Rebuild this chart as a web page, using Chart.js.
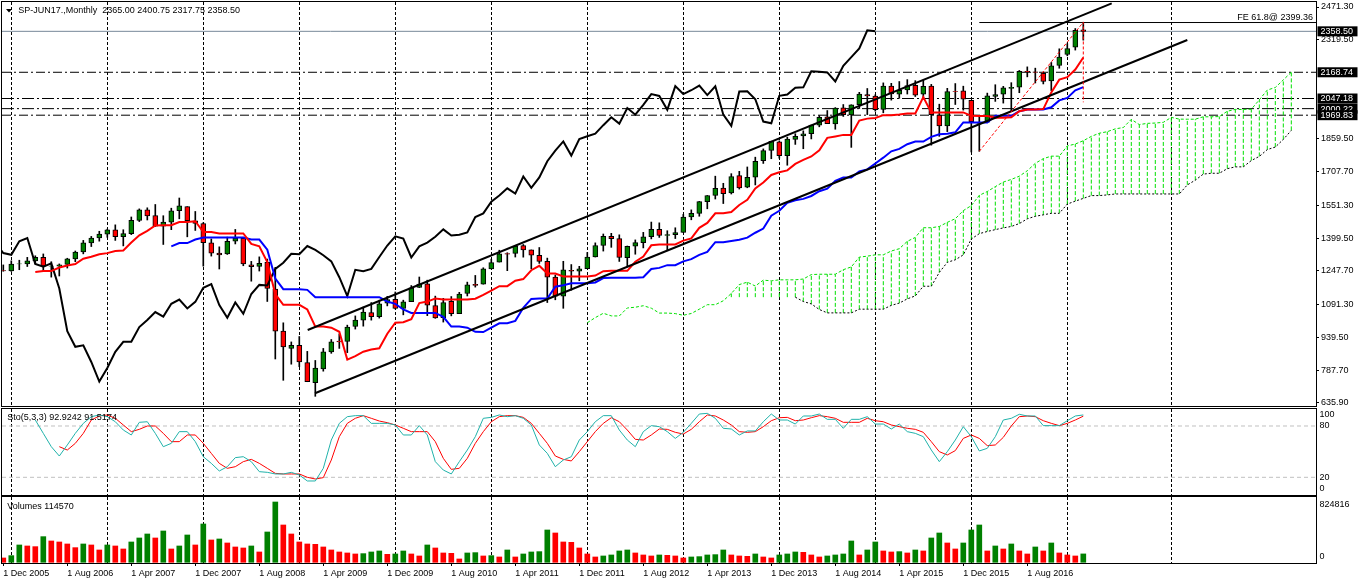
<!DOCTYPE html>
<html><head><meta charset="utf-8">
<script src="https://cdn.jsdelivr.net/npm/chart.js@4.4.1/dist/chart.umd.min.js"></script>
<style>
html,body{margin:0;padding:0;background:#fff;overflow:hidden}
#wrap{position:relative;width:1358px;height:584px;background:#fff}
canvas{position:absolute;left:0}
</style></head><body>
<div id="wrap">
<canvas id="cMain" width="1358" height="407" style="top:0px"></canvas>
<canvas id="cSto" width="1358" height="88" style="top:408px"></canvas>
<canvas id="cVol" width="1358" height="88" style="top:496px"></canvas>
</div>
<script>
// ---------------- DATA (monthly bars, index 0 = Dec 2005) ----------------
const symbolTitle = "SP-JUN17.,Monthly";
const monthTickIdx = [0,8,16,24,32,40,48,56,64,72,80,88,96,104,112,120,128];
const monthTickLabels = ["1 Dec 2005","1 Aug 2006","1 Apr 2007","1 Dec 2007","1 Aug 2008","1 Apr 2009","1 Dec 2009","1 Aug 2010","1 Apr 2011","1 Dec 2011","1 Aug 2012","1 Apr 2013","1 Dec 2013","1 Aug 2014","1 Apr 2015","1 Dec 2015","1 Aug 2016"];
const yearGridIdx = [1,13,25,37,49,61,73,85,97,109,121,133,146];

const opens = [1249.48,
1248.29,1280.08,1280.66,1294.81,1310.61,1270.05,1270.06,1278.53,1303.80,1335.82,1377.76,1400.63,
1418.03,1437.90,1406.80,1420.83,1482.37,1530.62,1504.66,1455.18,1473.96,1527.29,1545.79,1479.63,
1467.97,1378.60,1330.45,1326.41,1385.97,1399.62,1276.69,1269.42,1287.83,1164.17,968.67,888.61,
902.99,823.09,729.57,793.59,872.74,923.26,920.82,990.22,1019.52,1054.91,1036.18,1098.89,
1116.56,1073.89,1105.36,1171.23,1188.58,1087.30,1031.10,1107.53,1049.72,1143.49,1185.71,1186.60,
1257.62,1289.14,1328.64,1329.48,1365.21,1345.20,1320.64,1292.59,1219.12,1131.21,1251.00,1246.91,
1258.86,1312.45,1365.90,1408.47,1397.86,1309.87,1362.33,1379.32,1406.54,1440.90,1412.20,1416.18,
1426.19,1498.11,1514.68,1569.18,1597.55,1631.71,1609.78,1689.42,1635.95,1682.41,1758.70,1806.55,
1845.86,1782.68,1857.68,1873.96,1884.39,1923.87,1962.29,1929.80,2004.07,1971.44,2018.21,2065.78,
2058.90,1996.67,2105.23,2067.63,2087.38,2108.64,2067.00,2104.49,1970.09,1919.65,2080.76,2082.93,
2038.20,1936.94,1937.09,2056.62,2067.17,2093.94,2099.34,2173.15,2171.33,2164.33,2128.68,2200.17,
2251.57,2285.59,2365.00];
const highs = [1275.80,
1294.90,1297.57,1310.88,1318.16,1326.70,1290.68,1280.42,1306.74,1340.28,1389.45,1407.89,1431.81,
1441.61,1461.57,1438.89,1498.02,1535.56,1540.56,1555.90,1503.89,1538.74,1586.00,1545.79,1523.57,
1471.77,1396.02,1359.68,1404.57,1440.24,1404.05,1292.17,1313.15,1303.04,1264.80,1007.51,918.85,
943.85,875.01,832.98,888.70,930.17,956.23,996.68,1039.47,1080.15,1101.36,1112.28,1130.38,
1150.45,1112.42,1180.16,1219.80,1205.13,1131.23,1120.95,1129.24,1148.90,1196.14,1227.08,1262.60,
1302.67,1344.07,1332.28,1366.12,1370.58,1345.20,1356.48,1307.38,1229.29,1292.66,1277.55,1269.37,
1333.47,1378.04,1419.15,1422.38,1415.32,1363.46,1391.74,1426.68,1474.51,1470.96,1434.27,1448.00,
1509.94,1530.94,1570.28,1597.57,1687.18,1654.19,1698.78,1709.67,1729.86,1775.22,1813.55,1849.44,
1850.84,1867.92,1883.97,1897.28,1924.03,1968.17,1991.39,2005.04,2019.26,2018.19,2075.76,2093.55,
2064.43,2119.59,2117.52,2125.92,2134.72,2129.87,2132.82,2112.66,2020.86,2094.32,2116.48,2104.27,
2038.20,1962.96,2072.21,2111.05,2103.48,2120.55,2177.09,2193.81,2187.87,2169.60,2214.10,2277.53,
2300.99,2371.54,2400.75];
const lows = [1246.59,
1245.74,1253.61,1268.42,1280.74,1245.34,1219.29,1224.54,1261.30,1290.93,1327.10,1360.98,1385.93,
1403.97,1389.42,1363.98,1416.37,1476.70,1484.18,1454.25,1370.60,1439.29,1489.56,1406.10,1435.65,
1270.05,1316.75,1256.98,1324.35,1373.07,1272.00,1200.44,1247.45,1106.39,839.80,741.02,815.69,
804.30,734.52,666.79,783.32,866.10,888.86,869.32,978.51,991.97,1019.95,1029.38,1085.89,
1071.59,1044.50,1105.36,1170.69,1040.78,1028.33,1010.91,1039.70,1049.72,1131.87,1173.00,1186.60,
1257.62,1289.14,1249.05,1312.40,1311.80,1258.07,1282.86,1101.54,1114.22,1074.77,1158.66,1202.37,
1258.86,1312.45,1340.03,1357.38,1291.98,1266.74,1325.41,1354.65,1396.56,1403.28,1343.35,1398.11,
1426.19,1485.01,1501.48,1536.03,1581.28,1560.33,1604.57,1627.47,1633.41,1646.47,1746.20,1767.99,
1770.45,1737.92,1834.44,1814.36,1859.79,1915.98,1930.67,1904.78,1964.04,1820.66,2001.01,1972.56,
1988.44,1980.90,2039.69,2048.38,2067.93,2056.32,2044.02,1831.00,1871.91,1893.70,2019.39,1993.26,
1799.25,1802.50,1937.09,2033.80,2025.91,1991.68,2074.02,2147.58,2119.12,2114.72,2083.79,2187.44,
2245.13,2271.65,2317.75];
const closes = [1248.29,
1280.08,1280.66,1294.83,1310.61,1270.09,1270.20,1276.66,1303.82,1335.85,1377.94,1400.63,1418.30,
1438.24,1406.82,1420.86,1482.37,1530.62,1503.35,1455.27,1473.99,1526.75,1549.38,1481.14,1468.36,
1378.55,1330.63,1322.70,1385.59,1400.38,1280.00,1267.38,1282.83,1166.36,968.75,896.24,903.25,
825.88,735.09,797.87,872.81,919.14,919.32,987.48,1020.62,1057.08,1036.19,1095.63,1115.10,
1073.87,1104.49,1169.43,1186.69,1089.41,1030.71,1101.60,1049.33,1141.20,1183.26,1180.55,1257.64,
1286.12,1327.22,1325.83,1363.61,1345.20,1320.64,1292.28,1218.89,1131.42,1253.30,1246.96,1257.60,
1312.41,1365.68,1408.47,1397.91,1310.33,1362.16,1379.32,1406.58,1440.67,1412.16,1416.18,1426.19,
1498.11,1514.68,1569.19,1597.57,1630.74,1606.28,1685.73,1632.97,1681.55,1756.54,1805.81,1848.36,
1782.59,1859.45,1872.34,1883.95,1923.57,1960.23,1930.67,2003.37,1972.29,2018.05,2067.56,2058.90,
1994.99,2104.50,2067.89,2085.51,2107.39,2063.11,2103.84,1972.18,1920.03,2079.36,2080.41,2043.94,
1940.24,1932.23,2059.74,2065.30,2096.95,2098.86,2173.60,2170.95,2168.27,2126.15,2198.81,2238.83,
2278.87,2363.64,2358.50];

// Ichimoku lines, each with the bar index of its first value
const tenkanStart = 4;
const tenkan = [1243.18,1247.45,1247.45,1263.89,1273.0,1279.79,1304.37,1313.59,1325.55,1330.45,
1340.43,1343.06,1379.66,1413.25,1433.83,1458.44,1459.94,1459.94,1475.0,1475.0,
1478.3,1428.0,1428.0,1421.5,1421.5,1421.5,1421.5,1373.12,1362.0,1289.08,
1140.02,1090.63,1090.63,1090.63,1069.29,989.97,989.97,984.92,965.8,837.15,
853.13,873.47,884.08,889.54,956.85,1008.28,1009.89,1024.74,1099.16,1105.89,
1119.88,1115.36,1115.36,1115.36,1115.36,1119.0,1136.76,1156.79,1177.49,1177.49,
1202.91,1210.15,1251.23,1271.79,1236.06,1236.06,1222.68,1222.68,1222.68,1222.68,
1226.41,1246.96,1248.58,1248.58,1248.58,1290.52,1314.53,1366.69,1370.63,1370.63,
1370.63,1388.34,1398.84,1447.85,1470.46,1515.27,1515.27,1521.07,1553.89,1578.03,
1630.12,1657.52,1692.74,1705.59,1714.13,1744.27,1762.38,1778.72,1807.32,1864.66,
1871.48,1878.59,1878.59,1945.06,1953.96,1957.11,1970.13,1970.13,1973.29,1977.69,
1977.69,2053.64,1982.86,1982.86,1982.86,1982.86,1982.86,1966.99,1966.04,1966.04,
1957.87,1957.87,1959.90,1988.17,1996.53,1996.53,1998.16,2075.60,2134.60,2146.30,
2181.60,2237.40];
const kijunStart = 21;
const kijun = [1362.05,1377.1,1377.1,1393.54,1402.65,1402.65,1402.65,1402.65,1402.65,1402.65,
1393.22,1393.22,1346.2,1212.9,1163.51,1163.51,1163.51,1160.26,1126.4,1126.4,
1126.4,1126.4,1126.4,1126.4,1126.4,1126.4,1126.4,1106.29,1095.18,1069.28,
1053.52,1053.52,1053.52,1053.52,1035.42,989.97,989.97,984.92,965.80,964.70,
984.73,1005.43,1005.43,1016.46,1076.95,1118.34,1119.95,1119.95,1174.55,1181.28,
1190.75,1190.75,1190.75,1194.48,1215.03,1216.65,1216.65,1216.65,1216.65,1218.80,
1257.11,1262.12,1274.64,1274.64,1292.36,1302.86,1322.53,1336.17,1380.98,1380.98,
1386.78,1392.22,1402.32,1425.00,1444.16,1504.05,1526.61,1563.39,1575.36,1582.01,
1595.39,1617.46,1629.07,1665.23,1681.31,1681.31,1709.56,1718.45,1745.83,1772.89,
1802.30,1813.70,1835.38,1847.53,1847.53,1869.65,1881.10,1884.07,1890.60,1936.32,
1936.32,1936.32,1936.32,1966.99,1966.99,1966.99,1988.17,1996.53,1996.53,1996.53,
2006.68,2038.39,2050.12,2085.40,2100.00];
const kumoShift = 26;
const spanAStart = 47;
const spanA = [1007.97,1031.57,1051.73,1039.59,1039.13,1076.34,1079.71,1086.70,1075.39,1052.67,
1052.67,1050.14,1042.40,1050.73,1070.76,1091.46,1091.46,1109.69,1143.55,1184.79,
1195.87,1178.01,1205.31,1201.98,1206.72,1206.72,1206.72,1210.45,1231.00,1232.62,
1232.62,1232.62,1253.59,1266.67,1311.90,1316.38,1322.64,1322.64,1340.35,1350.85,
1385.19,1403.32,1448.13,1448.13,1453.93,1473.06,1490.18,1527.56,1550.84,1598.40,
1616.10,1638.76,1659.82,1672.20,1687.06,1712.39,1746.87,1768.36,1779.95,1779.95,
1827.31,1836.21,1851.47,1871.51,1886.22,1893.50,1906.54,1912.61,1950.59,1926.26,
1931.98,1933.47,1936.73,1959.59,1951.66,1951.18,1951.18,1962.43,1962.43,1963.45,
1988.17,1996.53,1996.53,1997.35,2041.14,2086.50,2098.21,2133.50,2168.74];
const spanBStart = 65;
const spanB = [1126.4,1126.4,1126.4,1126.4,1126.4,1126.4,1126.4,1126.4,1126.4,1106.29,
1095.18,1069.28,1053.52,1053.52,1053.52,1053.52,1070.65,1070.65,1070.65,1070.65,
1088.37,1098.87,1118.54,1132.18,1176.99,1176.99,1241.05,1287.89,1299.59,1322.27,
1396.03,1420.71,1430.88,1439.42,1447.44,1454.10,1467.47,1489.54,1501.15,1507.98,
1515.09,1515.09,1557.73,1571.64,1584.16,1597.18,1597.18,1600.35,1604.75,1604.75,
1604.75,1604.75,1604.75,1604.75,1604.75,1604.75,1604.75,1646.69,1668.55,1696.79,
1700.73,1700.73,1721.92,1730.28,1730.28,1759.61,1778.73,1810.44,1822.17,1857.45,
1899.43];
const spanBLineFrom = 73;   // first bar whose Span B line is drawn
const chikouFrom = 25;      // first close used by the lagging line

// Stochastic (5,3,3)
const stochKStart = 4;
const stochK = [87.0,71.4,55.8,44.9,57.8,71.4,83.1,90.9,92.9,90.9,
85.0,75.3,69.5,84.3,85.0,71.4,55.8,59.7,73.4,73.4,
61.7,44.1,36.3,27.4,32.4,43.0,44.1,38.3,26.6,25.8,
23.9,23.9,25.8,22.7,15.7,15.7,30.5,63.6,83.1,90.9,
92.1,92.1,83.1,83.1,83.1,81.2,69.5,69.5,80.4,69.5,
38.3,28.5,23.9,38.3,51.9,67.5,89.0,90.1,92.9,90.9,
92.1,89.0,81.2,57.8,48.0,32.4,40.2,44.1,63.6,73.4,
85.0,92.1,92.1,75.3,63.6,55.8,73.4,80.4,79.2,73.4,
65.5,72.6,83.1,94.0,94.8,89.0,77.3,76.5,69.5,74.2,
74.2,85.0,94.0,87.0,87.0,82.3,91.7,91.7,94.0,87.8,
87.8,77.3,87.8,87.8,90.9,82.3,82.3,76.5,82.3,73.4,
71.4,67.5,51.9,38.3,50.0,63.6,79.2,67.5,50.8,53.9,
67.5,87.0,89.0,93.7,91.7,91.7,80.4,80.4,80.4,86.2,
91.7,92.9242];
const stochDStart = 7;
const stochD = [55.8,51.9,59.7,71.4,87.0,91.7,92.9,89.0,81.2,73.4,
76.1,80.0,80.0,71.4,61.7,61.7,69.5,69.5,59.7,48.0,
36.3,30.5,32.4,38.3,41.0,36.3,30.5,24.6,23.9,23.9,
23.9,20.0,18.0,19.6,40.2,67.5,83.1,89.0,92.1,89.0,
85.8,83.9,81.2,77.3,73.4,73.4,73.4,61.7,42.2,29.3,
30.5,42.2,59.7,73.4,85.0,90.9,92.1,92.1,90.1,83.1,
71.4,59.7,44.9,41.0,39.1,50.0,61.7,73.4,83.1,89.7,
85.0,75.3,64.4,63.6,69.5,76.5,76.1,72.6,70.6,76.1,
85.0,92.9,91.7,87.0,81.2,73.4,72.6,73.4,79.2,86.2,
89.7,90.1,86.2,87.0,89.7,92.1,90.9,89.0,84.3,84.3,
84.3,89.0,86.2,85.0,81.2,79.2,77.3,76.1,72.6,61.7,
50.0,46.1,51.2,65.5,69.5,65.5,57.0,57.8,66.7,80.0,
90.9,91.7,90.9,86.2,83.1,80.4,83.1,87.0,91.5174];
const stochLevels = [20, 80];
const stochAxisLabels = [100, 80, 20, 0];

// Volumes
const volumes = [59241,
91140,236964,223293,214179,350889,291648,277977,250635,200508,250635,236964,168609,
236964,223293,182280,277977,332661,387345,332661,428358,182280,223293,373674,236964,
524055,305319,318990,264306,209622,195951,223293,141267,414687,824816,510384,387345,
277977,250635,246078,209622,168609,141267,127596,113925,118482,141267,154938,109368,
113925,154938,113925,86583,236964,195951,127596,123039,45570,127596,132153,86583,
91140,72912,168609,72912,113925,141267,145824,442029,401016,277977,273420,195951,
113925,72912,86583,100254,154938,168609,127596,100254,86583,100254,95697,86583,
59241,72912,77469,100254,104811,168609,100254,86583,82026,113925,72912,59241,
100254,113925,141267,136710,100254,72912,86583,100254,113925,291648,100254,168609,
277977,154938,141267,145824,127596,168609,154938,332661,401016,264306,182280,264306,
442029,510384,154938,223293,182280,250635,154938,113925,209622,154938,264306,127596,
100254,86583,114570];

// Price axis, levels and drawn objects
const priceTicks = [2471.30,2319.50,1859.50,1707.70,1551.30,1399.50,1247.70,1091.30,939.50,787.70,635.90];
const levelLines = [2168.74, 2047.18, 2000.22, 1969.83];
const upperChannel = [[38.05, 974.2],[138.55, 2488.4]];
const lowerChannel = [[38.96, 680.8],[148.0, 2318.3]];
const feA = [122, 1802.50], feB = [135, 2400.75], feC = [135, 2029.65];
const feLevel = 2399.36, feRatio = "61.8";

// ---------------- STYLE / LAYOUT ----------------
const X_MIN = -0.1625, X_MAX = 164.0875;
const levelDash = [[9,3,2,3],[12,3,2,3],[12,3,2,3],[9,3,2,3]];
const FONT = '9px "Liberation Sans", Arial, sans-serif';
const GREEN = '#008000', RED = '#ff0000', KUMO = '#00e000';
Chart.defaults.font.family = '"Liberation Sans", Arial, sans-serif';
Chart.defaults.font.size = 9;
Chart.defaults.color = '#000';

const last = closes.length - 1;
const bid = closes[last];
const pts = (arr, start, shift) => arr.map((v, k) => ({x: start + k + (shift || 0), y: v}));
const line = (data, color, width, order, dash) => ({type:'line', data, borderColor: color, borderWidth: width,
  pointRadius: 0, tension: 0, fill: false, order, borderDash: dash || [], spanGaps: false});
const noPad = ax => { ax.paddingTop = 0; ax.paddingBottom = 0; ax.paddingLeft = 0; ax.paddingRight = 0; };

const panePlugin = {
  id: 'pane',
  beforeDatasetsDraw(chart) {
    const {ctx, chartArea: a, scales: {x}} = chart;
    ctx.save();
    ctx.beginPath(); ctx.rect(a.left, a.top, a.right - a.left, a.bottom - a.top); ctx.clip();
    ctx.strokeStyle = '#000'; ctx.lineWidth = 1; ctx.setLineDash([3, 2]);
    yearGridIdx.forEach(i => {
      const px = Math.round(x.getPixelForValue(i)) + 0.5;
      ctx.beginPath(); ctx.moveTo(px, a.top); ctx.lineTo(px, a.bottom); ctx.stroke();
    });
    ctx.restore();
  },
  afterDraw(chart) {
    const {ctx, chartArea: a} = chart;
    ctx.save(); ctx.strokeStyle = '#000'; ctx.lineWidth = 1; ctx.setLineDash([]);
    ctx.strokeRect(a.left - 0.5, a.top - 0.5, a.right - a.left + 1, a.bottom - a.top + 1);
    ctx.restore();
  }
};

const common = {
  responsive: false, animation: false, events: [],
  plugins: {legend: {display: false}, tooltip: {enabled: false}}
};

// ---------------- MAIN PANE ----------------
const hatch = [];
spanB.forEach((b, k) => {
  const j = spanBStart + k, a = spanA[j - spanAStart], px = j + kumoShift;
  hatch.push({x: px, y: b}, {x: px, y: a}, {x: px, y: null});
});
const candleIdx = closes.map((c, i) => i);

const mainOverlay = {
  id: 'mainOverlay',
  afterDraw(chart) {
    const {ctx, scales: {y}} = chart;
    ctx.save();
    ctx.font = FONT; ctx.textBaseline = 'middle';
    ctx.fillStyle = '#000';
    ctx.beginPath(); ctx.moveTo(6, 9); ctx.lineTo(12, 9); ctx.lineTo(9, 12.5); ctx.closePath(); ctx.fill();
    ctx.textAlign = 'left';
    ctx.fillText(symbolTitle + '  ' + [opens[last], highs[last], lows[last], closes[last]].map(v => v.toFixed(2)).join(' '), 18.3, 10.7);
    ctx.textAlign = 'right';
    ctx.fillText('FE ' + feRatio + '@ ' + feLevel.toFixed(2), 1313, y.getPixelForValue(feLevel) - 5.5);
    ctx.textAlign = 'left';
    [bid].concat(levelLines).forEach(v => {
      const py = y.getPixelForValue(v);
      ctx.fillStyle = '#000'; ctx.fillRect(1317.5, py - 5, 40, 10);
      ctx.fillStyle = '#fff'; ctx.fillText(v.toFixed(2), 1320.5, py + 0.5);
    });
    ctx.restore();
  }
};

new Chart(document.getElementById('cMain'), {
  type: 'line',
  data: {datasets: [
    line([{x: X_MIN, y: bid}, {x: X_MAX, y: bid}], '#778899', 1, 20),
    ...levelLines.map((v, k) => line([{x: X_MIN, y: v}, {x: X_MAX, y: v}], '#000', 1, 19, levelDash[k])),
    line(hatch, KUMO, 1, 18, [4, 2]),
    line(pts(spanA, spanAStart, kumoShift), KUMO, 1, 17, [3, 2]),
    line(pts(spanB.slice(spanBLineFrom - spanBStart), spanBLineFrom, kumoShift), '#000', 1, 16, [2, 2]),
    {type: 'bar', data: candleIdx.map(i => ({x: i, y: [lows[i], highs[i]]})), backgroundColor: '#000',
      barThickness: 1, grouped: false, order: 15, borderWidth: 0},
    {type: 'bar', data: candleIdx.map(i => ({x: i, y: [opens[i], closes[i]]})),
      backgroundColor: candleIdx.map(i => closes[i] >= opens[i] ? GREEN : RED),
      borderColor: '#000', borderWidth: 1, borderSkipped: false, barThickness: 5, grouped: false, order: 14},
    line(closes.slice(chikouFrom).map((c, k) => ({x: chikouFrom + k - kumoShift, y: c})), '#000', 2, 13),
    line(pts(kijun, kijunStart), '#0000ff', 2, 12),
    line(pts(tenkan, tenkanStart), '#ff0000', 2, 11),
    line(upperChannel.map(p => ({x: p[0], y: p[1]})), '#000', 2, 5),
    line(lowerChannel.map(p => ({x: p[0], y: p[1]})), '#000', 2, 5),
    line([{x: feA[0], y: feLevel}, {x: X_MAX, y: feLevel}], '#000', 1, 4),
    line([feA, feB, feC].map(p => ({x: p[0], y: p[1]})), '#ff0000', 1, 3, [3, 2])
  ]},
  options: Object.assign({}, common, {
    layout: {autoPadding: false, padding: {left: 2, top: 2, right: 0, bottom: 1}},
    scales: {
      x: {type: 'linear', min: X_MIN, max: X_MAX, display: false, offset: false},
      y: {type: 'linear', position: 'right', min: 621.9, max: 2494.5,
        afterBuildTicks: ax => { ax.ticks = priceTicks.map(v => ({value: v})); },
        afterFit: ax => { ax.width = 42; noPad(ax); },
        ticks: {autoSkip: false, padding: 2, callback: v => Number(v).toFixed(2), color: '#000'},
        grid: {drawOnChartArea: false, drawTicks: true, tickLength: 3, color: '#000'},
        border: {display: false}}
    }
  }),
  plugins: [panePlugin, mainOverlay]
});

// ---------------- STOCHASTIC PANE ----------------
const stoOverlay = {
  id: 'stoOverlay',
  afterDraw(chart) {
    const {ctx, scales: {y}} = chart;
    const edgeShift = {100: 6, 0: -6};
    ctx.save(); ctx.font = FONT; ctx.fillStyle = '#000'; ctx.textBaseline = 'middle'; ctx.textAlign = 'left';
    stochAxisLabels.forEach(v => ctx.fillText(String(v), 1319.5, y.getPixelForValue(v) + (edgeShift[v] || 0)));
    ctx.fillText('Sto(5,3,3) ' + stochK[stochK.length - 1].toFixed(4) + ' ' + stochD[stochD.length - 1].toFixed(4), 7.3, 9.3);
    ctx.restore();
  }
};
new Chart(document.getElementById('cSto'), {
  type: 'line',
  data: {datasets: [
    ...stochLevels.map(v => line([{x: X_MIN, y: v}, {x: X_MAX, y: v}], '#c0c0c0', 1, 5, [4, 3])),
    line(pts(stochD, stochDStart), '#ff0000', 1, 2),
    line(pts(stochK, stochKStart), '#20b2aa', 1, 1)
  ]},
  options: Object.assign({}, common, {
    layout: {autoPadding: false, padding: {left: 2, top: 1, right: 0, bottom: 1}},
    scales: {
      x: {type: 'linear', min: X_MIN, max: X_MAX, display: false, offset: false},
      y: {type: 'linear', position: 'right', min: -0.70, max: 99.88,
        afterFit: ax => { ax.width = 42; noPad(ax); },
        ticks: {display: false}, grid: {display: false}, border: {display: false}}
    }
  }),
  plugins: [panePlugin, stoOverlay]
});

// ---------------- VOLUME PANE ----------------
const volOverlay = {
  id: 'volOverlay',
  afterDraw(chart) {
    const {ctx, scales: {y}} = chart;
    const vmax = Math.max(...volumes);
    ctx.save(); ctx.font = FONT; ctx.fillStyle = '#000'; ctx.textBaseline = 'middle'; ctx.textAlign = 'left';
    ctx.fillText(String(vmax), 1319.5, y.getPixelForValue(vmax) + 3);
    ctx.fillText('0', 1319.5, y.getPixelForValue(0) - 6);
    ctx.fillText('Volumes ' + volumes[last], 7.3, 10.7);
    ctx.restore();
  }
};
new Chart(document.getElementById('cVol'), {
  type: 'bar',
  data: {datasets: [{
    data: volumes.map((v, i) => ({x: i, y: v})),
    backgroundColor: volumes.map((v, i) => (i > 0 && v > volumes[i - 1]) ? GREEN : RED),
    barThickness: 5, borderWidth: 0, grouped: false
  }]},
  options: Object.assign({}, common, {
    layout: {autoPadding: false, padding: {left: 2, top: 1, right: 0, bottom: 0}},
    scales: {
      x: {type: 'linear', min: X_MIN, max: X_MAX, offset: false, position: 'bottom',
        afterBuildTicks: ax => { ax.ticks = monthTickIdx.map(v => ({value: v})); },
        afterFit: ax => { ax.height = 21; noPad(ax); },
        ticks: {align: 'start', autoSkip: false, maxRotation: 0, minRotation: 0, padding: 2, color: '#000',
          callback: v => monthTickLabels[monthTickIdx.indexOf(v)]},
        grid: {drawOnChartArea: false, drawTicks: true, tickLength: 3, color: '#000', offset: false},
        border: {display: false}},
      y: {type: 'linear', position: 'right', min: -9575, max: 893200,
        afterFit: ax => { ax.width = 42; noPad(ax); },
        ticks: {display: false}, grid: {display: false}, border: {display: false}}
    }
  }),
  plugins: [panePlugin, volOverlay]
});
</script>
</body></html>
